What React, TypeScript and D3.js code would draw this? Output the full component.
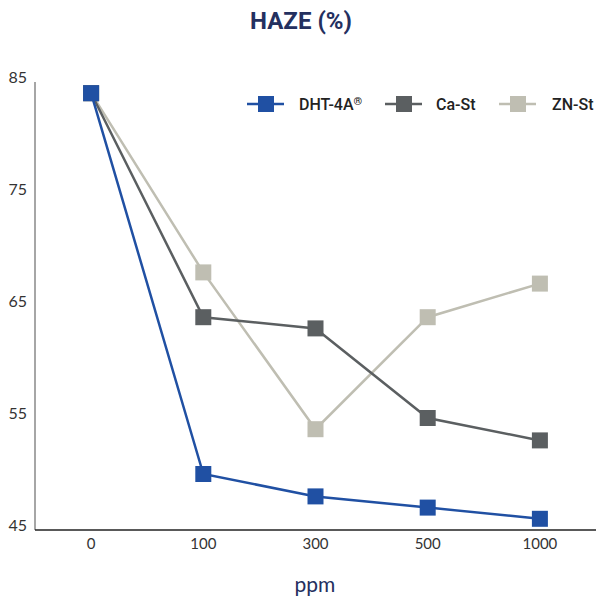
import React from "react";
import * as d3 from "d3";

const categories = ["0", "100", "300", "500", "1000"];
const dht = [84, 50, 48, 47, 46];
const caSt = [84, 64, 63, 55, 53];
const znSt = [84, 68, 54, 64, 67];
const yTicks = [45, 55, 65, 75, 85];
const seriesNames = ["DHT-4A", "Ca-St", "ZN-St"];
const seriesSup = ["®", "", ""];
const seriesColors = ["#2050a3", "#5b5f61", "#bfbeb2"];

const W = 596;
const H = 602;

export default function App() {
  const x = d3.scalePoint<string>().domain(categories).range([35, 596]).padding(0.5);
  const y = d3.scaleLinear().domain([45, 85]).range([530, 82]);
  const line = d3
    .line<number>()
    .x((_, i) => x(categories[i]) as number)
    .y((d) => y(d));
  const all = [dht, caSt, znSt];
  const order = [2, 1, 0];
  const ms = 16;
  const legendX = [266, 404, 518];
  const legendTextX = [299, 436, 552];
  return (
    <div style={{ position: "absolute", left: 0, top: 0 }}>
      <svg width={W} height={H} style={{ display: "block", background: "#fff" }}>
        <text x={301} y={29} textAnchor="middle" fontFamily="Roboto, sans-serif" fontWeight={700} fontSize={24} fill="#24305f">
          HAZE (%)
        </text>
        <line x1={35} x2={35} y1={82} y2={530} stroke="#888" strokeWidth={1.5} />
        <line x1={35} x2={596} y1={530} y2={530} stroke="#222" strokeWidth={1.5} />
        {yTicks.map((t) => (
          <text key={t} x={27} y={y(t) + 1} textAnchor="end" fontFamily="Lato, sans-serif" fontSize={16} fill="#333">
            {t}
          </text>
        ))}
        {categories.map((c) => (
          <text key={c} x={x(c)} y={549} textAnchor="middle" fontFamily="Lato, sans-serif" fontSize={15} fill="#333">
            {c}
          </text>
        ))}
        <text x={315} y={592} textAnchor="middle" fontFamily="Lato, sans-serif" fontSize={21} fill="#24305f">
          ppm
        </text>
        {order.map((si) => (
          <g key={si}>
            <path d={line(all[si]) || ""} fill="none" stroke={seriesColors[si]} strokeWidth={2.5} />
            {all[si].map((v, i) => (
              <rect key={i} x={(x(categories[i]) as number) - ms / 2} y={y(v) - ms / 2} width={ms} height={ms} fill={seriesColors[si]} />
            ))}
          </g>
        ))}
        {seriesNames.map((n, i) => (
          <g key={n}>
            <line x1={legendX[i] - 19} x2={legendX[i] + 18} y1={104} y2={104} stroke={seriesColors[i]} strokeWidth={2.5} />
            <rect x={legendX[i] - 8} y={96} width={16} height={16} fill={seriesColors[i]} />
            <text x={legendTextX[i]} y={110} fontFamily="Roboto, sans-serif" fontWeight={500} fontSize={16} fill="#222">
              {n}
              {seriesSup[i] ? (
                <tspan fontSize={11} dy={-5}>
                  {seriesSup[i]}
                </tspan>
              ) : null}
            </text>
          </g>
        ))}
      </svg>
    </div>
  );
}
